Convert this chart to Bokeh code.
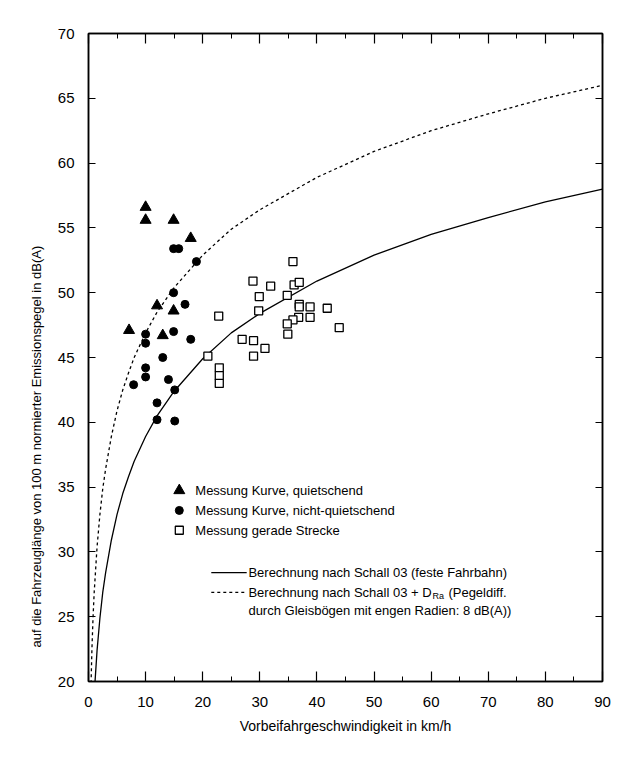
from bokeh.plotting import figure
from bokeh.models import Range1d, LinearAxis, SingleIntervalTicker, Title
from bokeh.core.properties import value
from bokeh.embed import file_html
from bokeh.resources import INLINE

FONT = "Liberation Sans"

# ---- data ----
# Messung Kurve, quietschend (triangles)
tri_v = [10.0, 10.0, 14.9, 17.9, 12.0, 14.9, 7.1, 13.0]
tri_L = [56.6, 55.6, 55.6, 54.2, 49.0, 48.6, 47.1, 46.7]

# Messung Kurve, nicht-quietschend (filled circles)
circ_v = [14.9, 15.8, 18.9, 14.9, 16.9, 10.0, 10.0, 14.9, 17.9, 13.0,
          10.0, 10.0, 7.9, 14.0, 15.1, 12.0, 12.0, 15.1]
circ_L = [53.4, 53.4, 52.4, 50.0, 49.1, 46.8, 46.1, 47.0, 46.4, 45.0,
          44.2, 43.5, 42.9, 43.3, 42.5, 41.5, 40.2, 40.1]

# Messung gerade Strecke (open squares)
sq_v = [35.8, 28.8, 31.9, 36.0, 36.9, 29.9, 34.8, 36.9, 36.9, 38.8,
        41.8, 22.8, 29.8, 36.8, 38.8, 35.8, 34.8, 34.9, 43.9, 26.9,
        28.9, 30.9, 28.9, 20.9, 22.9, 22.9, 22.9]
sq_L = [52.4, 50.9, 50.5, 50.6, 50.8, 49.7, 49.8, 49.1, 48.9, 48.9,
        48.8, 48.2, 48.6, 48.1, 48.1, 47.9, 47.6, 46.8, 47.3, 46.4,
        46.3, 45.7, 45.1, 45.1, 44.2, 43.6, 43.0]

# Berechnung nach Schall 03 (solid curve)
calc_v = [1.1, 1.5, 2, 2.5, 3, 4, 5, 6, 7, 8, 10, 12, 15, 20, 25, 30,
          40, 50, 60, 70, 80, 90]
calc_L = [19.7, 22.4, 24.9, 26.9, 28.4, 30.9, 32.9, 34.5, 35.8, 37.0,
          38.9, 40.5, 42.4, 44.9, 46.9, 48.4, 50.9, 52.9, 54.5, 55.8,
          57.0, 58.0]

# Berechnung nach Schall 03 + D_Ra (dashed curve)
calc2_v = [0.42, 0.6, 0.8, 1, 1.5, 2, 2.5, 3, 4, 5, 6, 7, 8, 10, 12, 15,
           20, 25, 30, 40, 50, 60, 70, 80, 90]
calc2_L = [19.4, 22.5, 25.0, 26.9, 30.4, 32.9, 34.9, 36.4, 38.9, 40.9,
           42.5, 43.8, 45.0, 46.9, 48.5, 50.4, 52.9, 54.9, 56.4, 58.9,
           60.9, 62.5, 63.8, 65.0, 66.0]

x_label = "Vorbeifahrgeschwindigkeit in km/h"
y_label = "auf die Fahrzeuglänge von 100 m normierter Emissionspegel in dB(A)"

p = figure(width=621, height=760, output_backend="svg", toolbar_location=None,
           x_range=Range1d(0, 90), y_range=Range1d(20, 70),
           min_border_left=88, min_border_right=19, min_border_top=33,
           min_border_bottom=79)
p.background_fill_color = "white"
p.border_fill_color = "white"
p.outline_line_color = "black"
p.outline_line_width = 1.5
p.xgrid.visible = False
p.ygrid.visible = False

bottom = p.below[0]
left = p.left[0]
top = LinearAxis()
right = LinearAxis()
p.add_layout(top, "above")
p.add_layout(right, "right")

for ax in [bottom, top]:
    ax.ticker = SingleIntervalTicker(interval=10, num_minor_ticks=2)
    ax.major_tick_in = 10
    ax.major_tick_out = 0
    ax.minor_tick_in = 5
    ax.minor_tick_out = 0
for ax in [left, right]:
    ax.ticker = SingleIntervalTicker(interval=5, num_minor_ticks=0)
    ax.major_tick_in = 7
    ax.major_tick_out = 0
    ax.minor_tick_line_color = None
for ax in [bottom, top, left, right]:
    ax.axis_line_color = "black"
    ax.axis_line_width = 1.5
    ax.major_tick_line_color = "black"
    ax.major_tick_line_width = 1.2
    ax.minor_tick_line_width = 1.0
    ax.major_label_text_font = FONT
    ax.major_label_text_font_size = "15px"
    ax.major_label_text_color = "black"
for ax in [top, right]:
    ax.major_label_text_font_size = "0px"
    ax.major_label_text_color = None

left.major_label_standoff = 14
bottom.major_label_standoff = 15
bottom.axis_label = x_label
bottom.axis_label_text_font = FONT
bottom.axis_label_text_font_size = "14px"
bottom.axis_label_text_font_style = "normal"
bottom.axis_label_text_color = "black"
bottom.axis_label_standoff = 8

p.add_layout(Title(text=y_label, align="left", offset=34,
                   text_font=FONT, text_font_size="13px",
                   text_font_style="normal", text_color="black",
                   standoff=22), "left")

# curves
p.line(calc_v, calc_L, line_color="black", line_width=1.3)
p.line(calc2_v, calc2_L, line_color="black", line_width=1.3, line_dash="3 3")

# markers
p.scatter(sq_v, sq_L, marker="square", size=8, fill_color="white",
          line_color="black", line_width=1.3)
p.scatter(circ_v, circ_L, marker="circle", size=8, fill_color="black",
          line_color="black")
p.scatter(tri_v, tri_L, marker="triangle", size=11, fill_color="black",
          line_color="black")

# legend (manual)
TF = value(FONT)
FS = "13px"
lx_m, lx_t = 15.9, 18.7
p.scatter([lx_m], [34.74], marker="triangle", size=11, fill_color="black", line_color="black")
p.scatter([lx_m], [33.2], marker="circle", size=8, fill_color="black", line_color="black")
p.scatter([lx_m], [31.67], marker="square", size=8, fill_color="white", line_color="black", line_width=1.3)
p.text([lx_t], [34.74], text=["Messung Kurve, quietschend"], text_font=TF,
       text_font_size=FS, text_baseline="middle", text_color="black")
p.text([lx_t], [33.2], text=["Messung Kurve, nicht-quietschend"], text_font=TF,
       text_font_size=FS, text_baseline="middle", text_color="black")
p.text([lx_t], [31.67], text=["Messung gerade Strecke"], text_font=TF,
       text_font_size=FS, text_baseline="middle", text_color="black")

p.line([21.5, 27.7], [28.4, 28.4], line_color="black", line_width=1.3)
p.line([21.5, 27.7], [26.87, 26.87], line_color="black", line_width=1.3, line_dash="3 3")
lt = 28.0
p.text([lt], [28.4], text=["Berechnung nach Schall 03 (feste Fahrbahn)"], text_font=TF,
       text_font_size=FS, text_baseline="middle", text_color="black")
p.text([lt], [26.87], text=["Berechnung nach Schall 03 + D"], text_font=TF,
       text_font_size=FS, text_baseline="middle", text_color="black")
p.text([lt], [26.87], text=["Ra"], text_font=TF, x_offset=184, y_offset=4,
       text_font_size="9px", text_baseline="middle", text_color="black")
p.text([lt], [26.87], text=["(Pegeldiff."], text_font=TF, x_offset=200,
       text_font_size=FS, text_baseline="middle", text_color="black")
p.text([lt], [25.48], text=["durch Gleisbögen mit engen Radien: 8 dB(A))"], text_font=TF,
       text_font_size=FS, text_baseline="middle", text_color="black")

open("out.html", "w").write(file_html(p, INLINE))
